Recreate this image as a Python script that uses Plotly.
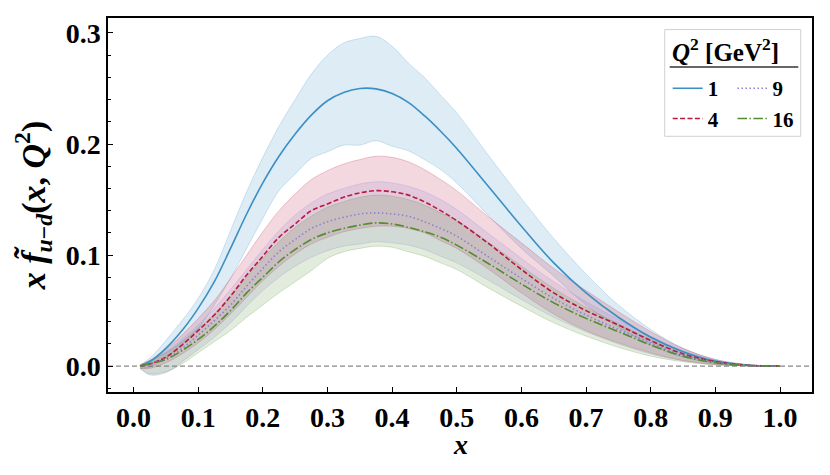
import plotly.graph_objects as go

# x grid shared by all curves
x = [0.01, 0.025, 0.05, 0.075, 0.1, 0.125, 0.15, 0.175, 0.2, 0.225, 0.25, 0.275, 0.3, 0.325, 0.35,
     0.375, 0.4, 0.425, 0.45, 0.475, 0.5, 0.55, 0.6, 0.65, 0.7, 0.75, 0.8, 0.85, 0.9, 0.95, 1.0]

# Q^2 = 1 GeV^2: central value, upper and lower edge of the band
c1 = [0.0, 0.004, 0.016, 0.032, 0.052, 0.076, 0.106, 0.137, 0.165, 0.189, 0.209, 0.226, 0.239, 0.2465, 0.250,
      0.2497, 0.2455, 0.2375, 0.2255, 0.2115, 0.196, 0.161, 0.126, 0.093, 0.066, 0.044, 0.026, 0.013, 0.0045, 0.0008, 0.0]
u1 = [0.001, 0.007, 0.023, 0.041, 0.061, 0.087, 0.122, 0.157, 0.188, 0.216, 0.240, 0.263, 0.280, 0.291, 0.295,
      0.297, 0.288, 0.273, 0.260, 0.244, 0.228, 0.189, 0.151, 0.115, 0.083, 0.055, 0.033, 0.016, 0.006, 0.0012, 0.0]
l1 = [-0.002, -0.001, 0.008, 0.019, 0.034, 0.055, 0.079, 0.106, 0.133, 0.158, 0.173, 0.187, 0.193, 0.199, 0.199,
      0.203, 0.198, 0.194, 0.186, 0.177, 0.165, 0.135, 0.106, 0.081, 0.055, 0.035, 0.019, 0.008, 0.0025, 0.0004, 0.0]

# Q^2 = 4 GeV^2
c4 = [0.0, 0.002, 0.008, 0.019, 0.032, 0.046, 0.063, 0.082, 0.099, 0.116, 0.128, 0.140, 0.146, 0.152, 0.156,
      0.158, 0.157, 0.154, 0.148, 0.140, 0.131, 0.110, 0.087, 0.066, 0.050, 0.037, 0.023, 0.011, 0.004, 0.0008, 0.0]
u4 = [0.001, 0.005, 0.015, 0.028, 0.043, 0.059, 0.079, 0.100, 0.121, 0.140, 0.155, 0.168, 0.176, 0.182, 0.186,
      0.189, 0.188, 0.184, 0.177, 0.168, 0.158, 0.134, 0.111, 0.088, 0.068, 0.049, 0.031, 0.016, 0.006, 0.0015, 0.0]
l4 = [-0.002, -0.002, 0.003, 0.011, 0.021, 0.033, 0.047, 0.062, 0.077, 0.090, 0.101, 0.110, 0.116, 0.121, 0.124,
      0.126, 0.126, 0.124, 0.120, 0.113, 0.106, 0.087, 0.066, 0.047, 0.032, 0.021, 0.012, 0.005, 0.0015, 0.0003, 0.0]

# Q^2 = 9 GeV^2
c9 = [0.0, 0.002, 0.007, 0.016, 0.028, 0.041, 0.055, 0.072, 0.088, 0.103, 0.114, 0.124, 0.130, 0.134, 0.137,
      0.138, 0.137, 0.135, 0.130, 0.124, 0.117, 0.098, 0.079, 0.061, 0.046, 0.033, 0.021, 0.010, 0.0035, 0.0007, 0.0]
u9 = [0.001, 0.005, 0.013, 0.024, 0.037, 0.052, 0.069, 0.087, 0.105, 0.122, 0.136, 0.147, 0.155, 0.160, 0.164,
      0.166, 0.165, 0.162, 0.157, 0.150, 0.141, 0.119, 0.097, 0.076, 0.058, 0.042, 0.027, 0.014, 0.005, 0.0012, 0.0]
l9 = [-0.002, -0.008, -0.006, 0.004, 0.015, 0.026, 0.039, 0.054, 0.068, 0.080, 0.090, 0.098, 0.104, 0.108, 0.110,
      0.112, 0.111, 0.109, 0.105, 0.099, 0.093, 0.077, 0.060, 0.044, 0.031, 0.020, 0.011, 0.005, 0.0015, 0.0003, 0.0]

# Q^2 = 16 GeV^2
c16 = [0.0, 0.002, 0.006, 0.014, 0.024, 0.036, 0.050, 0.066, 0.080, 0.094, 0.105, 0.114, 0.120, 0.124, 0.127,
       0.129, 0.128, 0.125, 0.121, 0.116, 0.109, 0.092, 0.074, 0.057, 0.043, 0.031, 0.019, 0.009, 0.003, 0.0006, 0.0]
u16 = [0.001, 0.005, 0.012, 0.022, 0.034, 0.047, 0.063, 0.080, 0.097, 0.112, 0.125, 0.135, 0.143, 0.148, 0.152,
       0.154, 0.153, 0.150, 0.145, 0.138, 0.131, 0.111, 0.090, 0.070, 0.053, 0.038, 0.024, 0.012, 0.004, 0.001, 0.0]
l16 = [-0.002, -0.007, -0.005, 0.002, 0.012, 0.022, 0.032, 0.044, 0.055, 0.066, 0.076, 0.086, 0.097, 0.103, 0.106,
       0.108, 0.107, 0.103, 0.099, 0.093, 0.087, 0.070, 0.054, 0.039, 0.027, 0.017, 0.009, 0.004, 0.001, 0.0002, 0.0]

labels = ["1", "4", "9", "16"]
centers = [c1, c4, c9, c16]
uppers = [u1, u4, u9, u16]
lowers = [l1, l4, l9, l16]
colors = [(58, 143, 196), (185, 25, 65), (140, 128, 208), (84, 140, 52)]
dashes = ["solid", "5px,2.4px", "1.5px,2.5px", "9.6px,2.4px,1.5px,2.4px"]
legends = ["legend", "legend", "legend2", "legend2"]

FONT = "Liberation Serif"

fig = go.Figure()

for lab, c, u, lo, col in zip(labels, centers, uppers, lowers, colors):
    r, g, b = col
    fig.add_trace(go.Scatter(x=x, y=lo, mode="lines", line=dict(color=f"rgba({r},{g},{b},0.22)", width=1, shape="spline"),
                             showlegend=False, hoverinfo="skip"))
    fig.add_trace(go.Scatter(x=x, y=u, mode="lines", fill="tonexty", fillcolor=f"rgba({r},{g},{b},0.17)",
                             line=dict(color=f"rgba({r},{g},{b},0.22)", width=1, shape="spline"),
                             showlegend=False, hoverinfo="skip"))

for lab, c, col, dash, lg in zip(labels, centers, colors, dashes, legends):
    r, g, b = col
    fig.add_trace(go.Scatter(x=x, y=c, mode="lines", name=lab, legend=lg, legendgroup=lab,
                             line=dict(color=f"rgb({r},{g},{b})", width=1.6, dash=dash, shape="spline")))

# zero reference line
fig.add_hline(y=0, line=dict(color="#888888", width=1.3, dash="5px,3px"), layer="below")

# legend frame, title and separator
fig.add_shape(type="rect", xref="paper", yref="paper", x0=0.7908, x1=0.984, y0=0.6837, y1=0.969,
              line=dict(color="#d0d0d0", width=1), fillcolor="rgba(255,255,255,0.8)", layer="above")
fig.add_shape(type="line", xref="paper", yref="paper", x0=0.7979, x1=0.9805, y0=0.869, y1=0.869,
              line=dict(color="#333333", width=1.5))
fig.add_annotation(xref="paper", yref="paper", x=0.7983, y=0.9136, xanchor="left", yanchor="middle",
                   showarrow=False, text="<i>Q</i><sup>2</sup> [GeV<sup>2</sup>]",
                   font=dict(family=FONT, size=25, color="black", weight="bold"))

# x-axis title placed as annotation for exact vertical position
fig.add_annotation(xref="paper", yref="paper", x=0.5, y=-0.14, xanchor="center", yanchor="middle",
                   showarrow=False, text="<i>x</i>",
                   font=dict(family=FONT, size=28, color="black", weight="bold"))

fig.update_layout(
    width=830, height=475,
    margin=dict(l=108, r=18, t=18, b=83, autoexpand=False),
    plot_bgcolor="white", paper_bgcolor="white",
    font=dict(family=FONT, size=28, color="black", weight="bold"),
    legend=dict(x=0.795, y=0.866, xanchor="left", yanchor="top", bgcolor="rgba(0,0,0,0)",
                font=dict(size=21), tracegroupgap=3, traceorder="normal"),
    legend2=dict(x=0.887, y=0.866, xanchor="left", yanchor="top", bgcolor="rgba(0,0,0,0)",
                 font=dict(size=21), tracegroupgap=3, traceorder="normal"),
    xaxis=dict(range=[-0.0395, 1.0495], tickvals=[i / 10 for i in range(11)],
               ticktext=[f"{i / 10:.1f}" for i in range(11)],
               ticks="inside", ticklen=5, tickwidth=1.2, tickcolor="black",
               showline=True, linecolor="black", linewidth=1.5, mirror=True,
               showgrid=False, zeroline=False, automargin=False),
    yaxis=dict(range=[-0.0233, 0.3135], tickvals=[0.0, 0.1, 0.2, 0.3],
               ticktext=["0.0", "0.1", "0.2", "0.3"],
               ticks="inside", ticklen=5, tickwidth=1.2, tickcolor="black",
               minor=dict(dtick=0.02, tick0=0, ticks="inside", ticklen=3, tickwidth=1, tickcolor="black"),
               showline=True, linecolor="black", linewidth=1.5, mirror=True,
               showgrid=False, zeroline=False, automargin=False,
               title=dict(text="<i>x</i> <i>f\u0303</i><sub><i>u</i>\u2212<i>d</i></sub>(<i>x</i>, <i>Q</i><sup>2</sup>)",
                          standoff=10)),
)

# drop the default page margin so the figure sits at the window corner
fig.write_html("out.html", config={"displayModeBar": False},
               post_script="document.body.style.margin='0';")
